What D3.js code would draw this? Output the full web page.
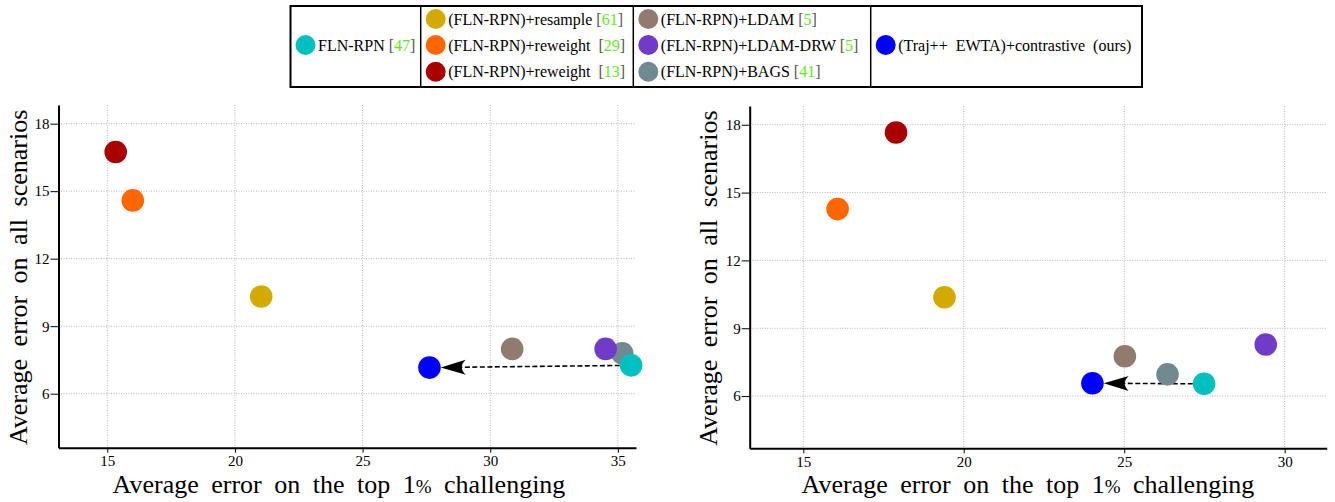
<!DOCTYPE html>
<html>
<head>
<meta charset="utf-8">
<script src="https://cdn.jsdelivr.net/npm/d3@7"></script>
<style>
  body { margin: 0; background: #fff; }
  svg, svg text { font-family: "Liberation Serif", "Times New Roman", serif; }
  .grid line { stroke: #b4b4b4; stroke-width: 1; stroke-dasharray: 1,1.5; }
  .axis path, .axis line { stroke: #000; }
  .axis path { stroke-width: 2; }
  .axis text { font-size: 15px; fill: #000; font-family: "Liberation Serif", serif; }
  .lab { font-size: 26px; fill: #000; word-spacing: 6px; }
  .leg { font-size: 16px; fill: #000; white-space: pre; }
</style>
</head>
<body>
<svg id="chart" width="1335" height="502"></svg>
<script>
// legend order
var methods = ["FLN-RPN", "(FLN-RPN)+resample", "(FLN-RPN)+reweight ", "(FLN-RPN)+reweight ",
               "(FLN-RPN)+LDAM", "(FLN-RPN)+LDAM-DRW", "(FLN-RPN)+BAGS", "(Traj++  EWTA)+contrastive  (ours)"];
var refs = ["47", "61", "29", "13", "5", "5", "41", ""];
var colors = ["#00c0c0", "#d4aa00", "#ff6600", "#aa0000", "#917b6e", "#6f3bc8", "#6f8a91", "#0000ff"];

// panel values, same order as methods
var leftX  = [35.52, 21.03, 16.00, 15.33, 30.86, 34.52, 35.17, 27.62];
var leftY  = [7.26, 10.32, 14.59, 16.74, 7.99, 7.99, 7.80, 7.16];
var rightX = [27.49, 19.40, 16.07, 17.89, 25.02, 29.41, 26.35, 24.01];
var rightY = [6.54, 10.37, 14.27, 17.66, 7.76, 8.28, 6.96, 6.57];

var yTicks = [6, 9, 12, 15, 18];
var leftXTicks = [15, 20, 25, 30, 35];
var rightXTicks = [15, 20, 25, 30];

// painting order (index into methods)
var drawOrder = [3, 2, 1, 4, 6, 5, 0, 7];

var xLabel = ["Average error on the top 1", "%", " challenging"];
var yLabel = "Average error on all scenarios";

var svg = d3.select("#chart");

var panels = [
  {xs: leftX, ys: leftY, xTicks: leftXTicks, xDom: [13.09, 35.71], yDom: [3.6, 18.83],
   left: 58.5, right: 636, top: 105, bottom: 447.7, yLabX: 26.5, xLabX: 339},
  {xs: rightX, ys: rightY, xTicks: rightXTicks, xDom: [13.33, 31.31], yDom: [3.69, 18.83],
   left: 749.7, right: 1326.7, top: 106, bottom: 448.3, yLabX: 717, xLabX: 1028}
];

panels.forEach(function(p) {
  var x = d3.scaleLinear().domain(p.xDom).range([p.left, p.right]);
  var y = d3.scaleLinear().domain(p.yDom).range([p.bottom, p.top]);
  var g = svg.append("g");

  var grid = g.append("g").attr("class", "grid");
  grid.selectAll(".gx").data(p.xTicks).enter().append("line")
      .attr("x1", function(d) { return x(d); }).attr("x2", function(d) { return x(d); })
      .attr("y1", p.top).attr("y2", p.bottom);
  grid.selectAll(".gy").data(yTicks).enter().append("line")
      .attr("y1", function(d) { return y(d); }).attr("y2", function(d) { return y(d); })
      .attr("x1", p.left).attr("x2", p.right);

  g.append("g").attr("class", "axis")
      .attr("transform", "translate(0," + p.bottom + ")")
      .call(d3.axisBottom(x).tickValues(p.xTicks).tickSize(5).tickSizeOuter(0).tickPadding(3))
      .attr("font-family", null);
  g.append("g").attr("class", "axis")
      .attr("transform", "translate(" + p.left + ",0)")
      .call(d3.axisLeft(y).tickValues(yTicks).tickSize(8).tickSizeOuter(0).tickPadding(1))
      .attr("font-family", null);

  // arrow from FLN-RPN to ours
  var r = 11.3;
  var x0 = x(p.xs[0]), y0 = y(p.ys[0]), x1 = x(p.xs[7]), y1 = y(p.ys[7]);
  var ang = Math.atan2(y1 - y0, x1 - x0);
  var sx = x0 + r * Math.cos(ang), sy = y0 + r * Math.sin(ang);
  var tx = x1 - r * Math.cos(ang), ty = y1 - r * Math.sin(ang);
  g.append("line")
      .attr("x1", sx).attr("y1", sy)
      .attr("x2", tx - 18 * Math.cos(ang)).attr("y2", ty - 18 * Math.sin(ang))
      .attr("stroke", "#000").attr("stroke-width", 1.6).attr("stroke-dasharray", "5,2.5");
  g.append("path")
      .attr("d", "M0,0 L-25,-7.5 Q-17,0 -25,7.5 Z")
      .attr("transform", "translate(" + tx + "," + ty + ") rotate(" + (ang * 180 / Math.PI) + ")")
      .attr("fill", "#000");

  g.selectAll(".pt").data(drawOrder).enter().append("circle")
      .attr("cx", function(i) { return x(p.xs[i]); })
      .attr("cy", function(i) { return y(p.ys[i]); })
      .attr("r", r)
      .attr("fill", function(i) { return colors[i]; });

  g.append("text").attr("class", "lab")
      .attr("transform", "translate(" + p.yLabX + "," + ((p.top + p.bottom) / 2 + 1) + ") rotate(-90)")
      .attr("text-anchor", "middle")
      .text(yLabel);
  var xl = g.append("text").attr("class", "lab")
      .attr("x", p.xLabX).attr("y", 493)
      .attr("text-anchor", "middle");
  xl.append("tspan").text(xLabel[0]);
  xl.append("tspan").attr("font-size", "19px").text(xLabel[1]);
  xl.append("tspan").text(xLabel[2]);
});

// legend
var legCols = [[0], [1, 2, 3], [4, 5, 6], [7]];
var colX = [290.5, 420.7, 633.3, 870.7, 1142];
var rowY = {1: [45], 3: [19, 45, 71.7]};

var leg = svg.append("g");
leg.append("rect").attr("x", colX[0]).attr("y", 6)
    .attr("width", colX[4] - colX[0]).attr("height", 81)
    .attr("fill", "none").attr("stroke", "#000").attr("stroke-width", 2);
colX.slice(1, 4).forEach(function(cx) {
  leg.append("line").attr("x1", cx).attr("x2", cx).attr("y1", 6).attr("y2", 87)
      .attr("stroke", "#000").attr("stroke-width", 1.5);
});

legCols.forEach(function(col, c) {
  var ys = rowY[col.length];
  col.forEach(function(i, k) {
    var cx = colX[c] + 15;
    leg.append("circle").attr("cx", cx).attr("cy", ys[k]).attr("r", 10).attr("fill", colors[i]);
    var t = leg.append("text").attr("class", "leg")
        .attr("x", cx + 12.5).attr("y", ys[k] + 5.5);
    t.append("tspan").text(methods[i]);
    if (refs[i]) {
      t.append("tspan").attr("fill", "#555").text(" [");
      t.append("tspan").attr("fill", "#5fe81c").text(refs[i]);
      t.append("tspan").attr("fill", "#555").text("]");
    }
  });
});
</script>
</body>
</html>
